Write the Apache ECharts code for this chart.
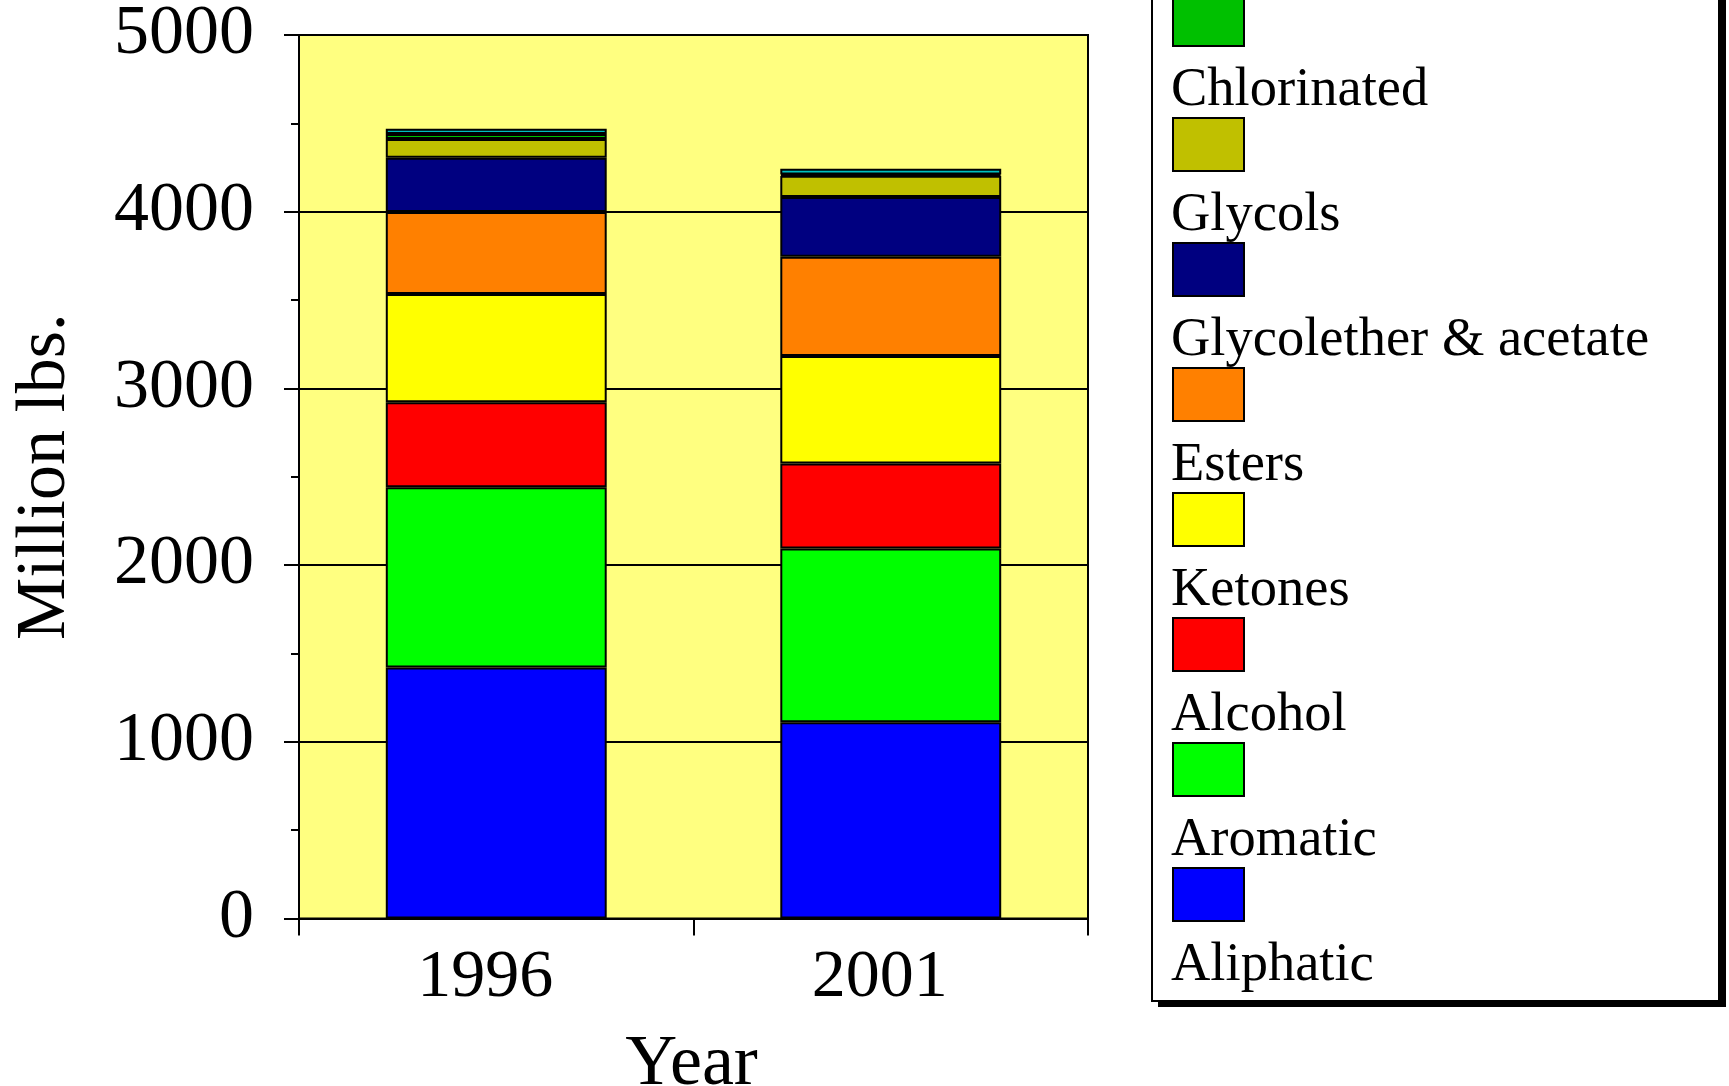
<!DOCTYPE html>
<html>
<head>
<meta charset="utf-8">
<script src="https://cdn.jsdelivr.net/npm/echarts@6/dist/echarts.min.js"></script>
<style>
  html, body { margin: 0; padding: 0; background: #fff; }
  #chart { width: 1729px; height: 1086px; }
</style>
</head>
<body>
<div id="chart"></div>
<script>
// 年份
var years = ['1996', '2001'];
// 溶剂类别，从下往上堆叠
var names = ['Aliphatic', 'Aromatic', 'Alcohol', 'Ketones', 'Esters',
  'Glycolether & acetate', 'Glycols', 'Chlorinated', 'Other'];
var colors = ['#0000ff', '#00ff00', '#ff0000', '#ffff00', '#ff8000',
  '#000080', '#c0c000', '#00c000', '#00c0c0'];
// 每类的数值 [1996, 2001]，单位 Million lbs.
var aliphatic = [1420, 1111];
var aromatic = [1021, 983];
var alcohol = [481, 481];
var ketones = [612, 609];
var esters = [464, 561];
var glycolether = [307, 338];
var glycols = [107, 120];
var chlorinated = [28, 8];
var other = [30, 32];
var values = [aliphatic, aromatic, alcohol, ketones, esters, glycolether, glycols, chlorinated, other];
// y轴刻度
var yMin = 0, yMax = 5000, yStep = 1000;

var font = '"Liberation Serif", "Times New Roman", serif';

var chart = echarts.init(document.getElementById('chart'));

var series = [];
for (var i = 0; i < names.length; i++) {
  series.push({
    name: names[i],
    type: 'bar',
    stack: 'total',
    barWidth: '56%',
    data: values[i],
    itemStyle: {
      color: colors[i],
      borderColor: '#000',
      borderWidth: 2
    }
  });
}

// 图例：上面一个只画色块，下面一个只写文字（文字在色块下方）
var legendNames = names.slice().reverse();

var option = {
  animation: false,
  backgroundColor: '#fff',
  grid: {
    left: 299, top: 35, right: 641, bottom: 167.5,
    outerBoundsMode: 'none',
    show: true,
    backgroundColor: '#ffff80',
    borderColor: '#000',
    borderWidth: 2
  },
  // 图例框的黑色阴影
  graphic: [{
    type: 'rect',
    z: 1,
    shape: { x: 1158, y: -160, width: 568, height: 1167 },
    style: { fill: '#000' }
  }],
  legend: [
    {
      orient: 'vertical',
      left: 1152,
      top: -153,
      data: legendNames,
      icon: 'rect',
      itemWidth: 71,
      itemHeight: 53,
      itemGap: 70,
      padding: [20, 474, 79, 20],
      backgroundColor: '#fff',
      borderColor: '#000',
      borderWidth: 2,
      itemStyle: { borderColor: '#000', borderWidth: 2 },
      formatter: function () { return ''; },
      z: 4
    },
    {
      orient: 'vertical',
      left: 1166,
      top: -61.5,
      data: legendNames,
      icon: 'rect',
      itemWidth: 0,
      itemHeight: 53,
      itemGap: 70,
      padding: 0,
      itemStyle: { color: 'rgba(0,0,0,0)', borderWidth: 0 },
      textStyle: { fontFamily: font, fontSize: 54.5, color: '#000', lineHeight: 53 },
      z: 5
    }
  ],
  xAxis: {
    type: 'category',
    data: years,
    name: 'Year',
    nameLocation: 'middle',
    nameGap: 111,
    nameTextStyle: { fontFamily: font, fontSize: 72, color: '#000', padding: [0, 4, 0, 0] },
    axisLine: { lineStyle: { color: '#000', width: 2 } },
    axisTick: { show: true, length: 17, lineStyle: { color: '#000', width: 2 } },
    axisLabel: {
      fontFamily: font, fontSize: 68, color: '#000', margin: 26,
      padding: [0, 22, 0, 0]
    }
  },
  yAxis: {
    type: 'value',
    min: yMin,
    max: yMax,
    interval: yStep,
    name: 'Million lbs.',
    nameLocation: 'middle',
    nameGap: 218,
    nameTextStyle: { fontFamily: font, fontSize: 70, color: '#000' },
    axisLine: { show: true, lineStyle: { color: '#000', width: 2 } },
    axisTick: { show: true, length: 15, lineStyle: { color: '#000', width: 2 } },
    minorTick: { show: true, splitNumber: 2, length: 8, lineStyle: { color: '#000', width: 2 } },
    splitLine: { show: true, lineStyle: { color: '#000', width: 2 } },
    axisLabel: {
      fontFamily: font, fontSize: 70, color: '#000', margin: 45,
      formatter: function (v) { return String(v); }
    }
  },
  series: series
};

option && chart.setOption(option);
</script>
</body>
</html>
